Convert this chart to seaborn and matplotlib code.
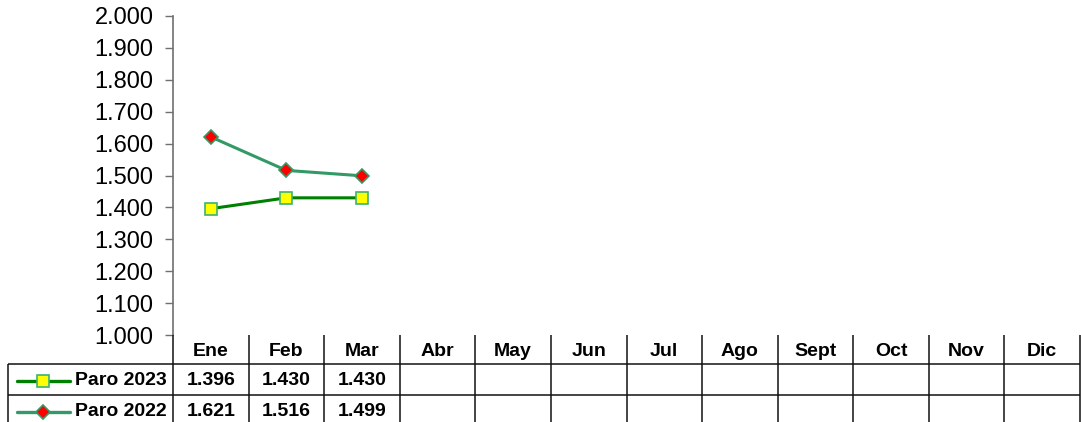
import numpy as np
import pandas as pd
import matplotlib
matplotlib.use("Agg")
import matplotlib.pyplot as plt
from matplotlib.ticker import FuncFormatter, MultipleLocator
import seaborn as sns

# data
months = ['Ene', 'Feb', 'Mar', 'Abr', 'May', 'Jun', 'Jul', 'Ago', 'Sept', 'Oct', 'Nov', 'Dic']
paro_2023 = [1396, 1430, 1430]
paro_2022 = [1621, 1516, 1499]
series_names = ['Paro 2023', 'Paro 2022']

sns.set_style("white")
plt.rcParams['font.family'] = ['Liberation Sans', 'DejaVu Sans']
plt.rcParams['text.color'] = 'black'
plt.rcParams['ytick.labelcolor'] = 'black'

W, H = 1081, 422
fig = plt.figure(figsize=(W / 100, H / 100), dpi=100)

# plot area in pixels
left_px, right_px, top_px, bot_px = 173, 1080, 16, 335
ax = fig.add_axes([left_px / W, 1 - bot_px / H, (right_px - left_px) / W, (bot_px - top_px) / H])

styles = {
    'Paro 2023': dict(color='#008000', marker='s', mfc='#FFFF00', mec='#3CB371', ms=9),
    'Paro 2022': dict(color='#339966', marker='D', mfc='#FF0000', mec='#339966', ms=7.5),
}
values = {'Paro 2023': paro_2023, 'Paro 2022': paro_2022}

for name in series_names:
    st = styles[name]
    v = values[name]
    sns.lineplot(x=np.arange(len(v)), y=v, ax=ax, color=st['color'], lw=2.2,
                 marker=st['marker'], markerfacecolor=st['mfc'], markeredgecolor=st['mec'],
                 markeredgewidth=1.2, markersize=st['ms'])

ax.set_xlim(-0.5, len(months) - 0.5)
ax.set_ylim(1000, 2000)
ax.yaxis.set_major_locator(MultipleLocator(100))
ax.yaxis.set_major_formatter(FuncFormatter(lambda v, p: f"{v:,.0f}".replace(",", ".")))
ax.set_xticks([])
ax.tick_params(axis='y', which='major', left=True, length=6, width=1, color='#707070',
               labelsize=17, labelcolor='black', pad=8)
for s in ['top', 'right', 'bottom']:
    ax.spines[s].set_visible(False)
ax.spines['left'].set_color('#707070')
ax.spines['left'].set_linewidth(1.2)

# data table below the plot, in pixel coordinates
tax = fig.add_axes([0, 0, 1, 1])
tax.set_xlim(0, W)
tax.set_ylim(H, 0)
tax.axis('off')

col_w = (right_px - left_px) / len(months)
col_edges = [left_px + i * col_w for i in range(len(months) + 1)]
row_edges = [335, 364, 395, 426]
lc = '#111111'
lw = 1.1

# vertical lines
tax.vlines(col_edges, row_edges[0], row_edges[-1], colors=lc, lw=lw)
tax.vlines([8], row_edges[1], row_edges[-1], colors=lc, lw=lw)
# horizontal lines
tax.hlines(row_edges[1:], 8, col_edges[-1], colors=lc, lw=lw)

fs = 14
for i, m in enumerate(months):
    cx = (col_edges[i] + col_edges[i + 1]) / 2
    tax.text(cx, (row_edges[0] + row_edges[1]) / 2 + 2, m, ha='center', va='center',
             fontsize=fs, fontweight='bold')

for r, name in enumerate(series_names):
    cy = (row_edges[r + 1] + row_edges[r + 2]) / 2 + 1
    st = styles[name]
    tax.plot([17, 70], [cy, cy], color=st['color'], lw=2.4)
    tax.plot([43], [cy], marker=st['marker'], mfc=st['mfc'], mec=st['mec'],
             mew=1.2, ms=st['ms'], color=st['color'])
    tax.text(167, cy, name, ha='right', va='center', fontsize=fs, fontweight='bold')
    for i, v in enumerate(values[name]):
        cx = (col_edges[i] + col_edges[i + 1]) / 2
        tax.text(cx, cy, f"{v:,.0f}".replace(",", "."), ha='center', va='center',
                 fontsize=fs, fontweight='bold')

fig.savefig('out.png', dpi=100)
